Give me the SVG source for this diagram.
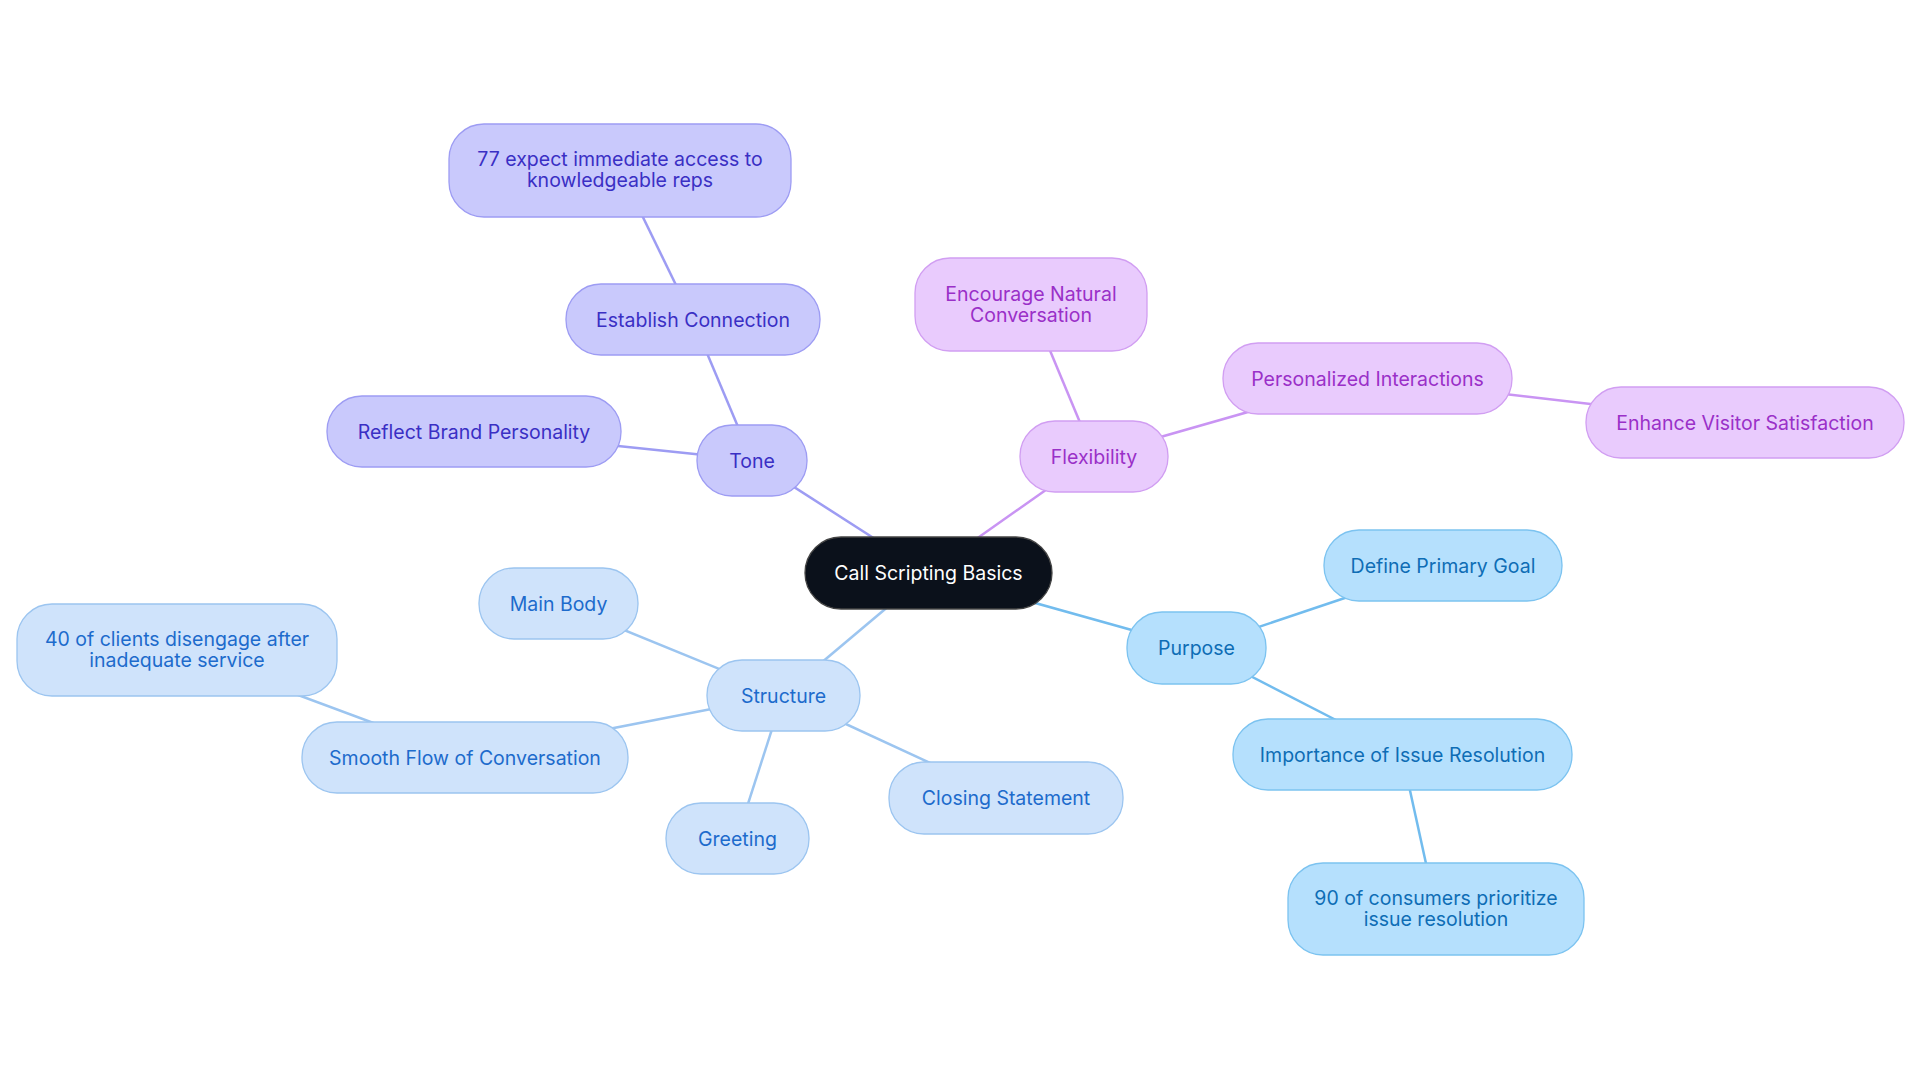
<svg xmlns="http://www.w3.org/2000/svg" width="1920" height="1083" viewBox="0 0 1920 1083">
<style>
text{font-family:Inter,"Noto Sans",sans-serif;font-size:19.5px;text-anchor:middle;dominant-baseline:central}
rect{stroke-width:1.3}
.t rect{fill:#c9c9fc;stroke:#9d9cf3}.t text{fill:#3a2fc4}
.f rect{fill:#e9cbfd;stroke:#d19ef2}.f text{fill:#9a30c8}
.p rect{fill:#b5e0fd;stroke:#7cc3f0}.p text{fill:#0e6db5}
.s rect{fill:#cfe3fb;stroke:#9cc5f0}.s text{fill:#1d6bcc}
#edges line{stroke-width:2.5}
.et{stroke:#9d9cf3}.ef{stroke:#c994f3}.ep{stroke:#72bcee}.es{stroke:#9cc5f0}
</style>
<rect width="1920" height="1083" fill="#fff"/>
<g id="edges">
<line class="et" x1="928" y1="573" x2="752" y2="460"/>
<line class="et" x1="752" y1="460" x2="693" y2="320"/>
<line class="et" x1="693" y1="320" x2="620" y2="170"/>
<line class="et" x1="752" y1="460" x2="474" y2="431"/>
<line class="ef" x1="928" y1="573" x2="1094" y2="456"/>
<line class="ef" x1="1094" y1="456" x2="1031" y2="305"/>
<line class="ef" x1="1094" y1="456" x2="1367" y2="378"/>
<line class="ef" x1="1367" y1="378" x2="1745" y2="422"/>
<line class="ep" x1="928" y1="573" x2="1196" y2="648"/>
<line class="ep" x1="1196" y1="648" x2="1443" y2="565"/>
<line class="ep" x1="1196" y1="648" x2="1402" y2="754"/>
<line class="ep" x1="1402" y1="754" x2="1436" y2="909"/>
<line class="es" x1="928" y1="573" x2="783" y2="695"/>
<line class="es" x1="783" y1="695" x2="558" y2="603"/>
<line class="es" x1="783" y1="695" x2="465" y2="757"/>
<line class="es" x1="465" y1="757" x2="177" y2="650"/>
<line class="es" x1="783" y1="695" x2="737" y2="838"/>
<line class="es" x1="783" y1="695" x2="1006" y2="798"/>
</g>
<g id="center"><rect x="805" y="537" width="247" height="72" rx="36" fill="#0b111b" stroke="#444"/><text x="928.5" y="573" fill="#fff">Call Scripting Basics</text></g>
<g id="tone" class="t"><rect x="697" y="425" width="110" height="71" rx="35"/><text x="752" y="460.5">Tone</text></g>
<g id="establish" class="t"><rect x="566" y="284" width="254" height="71" rx="35"/><text x="693" y="319.5">Establish Connection</text></g>
<g id="expect77" class="t"><rect x="449" y="124" width="342" height="93" rx="35"/><text x="620" y="159">77 expect immediate access to</text><text x="620" y="180">knowledgeable reps</text></g>
<g id="reflect" class="t"><rect x="327" y="396" width="294" height="71" rx="35"/><text x="474" y="431.5">Reflect Brand Personality</text></g>
<g id="flexibility" class="f"><rect x="1020" y="421" width="148" height="71" rx="35"/><text x="1094" y="456.5">Flexibility</text></g>
<g id="encourage" class="f"><rect x="915" y="258" width="232" height="93" rx="35"/><text x="1031" y="294">Encourage Natural</text><text x="1031" y="315">Conversation</text></g>
<g id="personalized" class="f"><rect x="1223" y="343" width="289" height="71" rx="35"/><text x="1367.5" y="378.5">Personalized Interactions</text></g>
<g id="enhance" class="f"><rect x="1586" y="387" width="318" height="71" rx="35"/><text x="1745" y="422.5">Enhance Visitor Satisfaction</text></g>
<g id="purpose" class="p"><rect x="1127" y="612" width="139" height="72" rx="35"/><text x="1196.5" y="648">Purpose</text></g>
<g id="define" class="p"><rect x="1324" y="530" width="238" height="71" rx="35"/><text x="1443" y="565.5">Define Primary Goal</text></g>
<g id="importance" class="p"><rect x="1233" y="719" width="339" height="71" rx="35"/><text x="1402.5" y="754.5">Importance of Issue Resolution</text></g>
<g id="consumers90" class="p"><rect x="1288" y="863" width="296" height="92" rx="35"/><text x="1436" y="898">90 of consumers prioritize</text><text x="1436" y="919">issue resolution</text></g>
<g id="structure" class="s"><rect x="707" y="660" width="153" height="71" rx="35"/><text x="783.5" y="695.5">Structure</text></g>
<g id="mainbody" class="s"><rect x="479" y="568" width="159" height="71" rx="35"/><text x="558.5" y="603.5">Main Body</text></g>
<g id="clients40" class="s"><rect x="17" y="604" width="320" height="92" rx="35"/><text x="177" y="639">40 of clients disengage after</text><text x="177" y="660">inadequate service</text></g>
<g id="smooth" class="s"><rect x="302" y="722" width="326" height="71" rx="35"/><text x="465" y="757.5">Smooth Flow of Conversation</text></g>
<g id="greeting" class="s"><rect x="666" y="803" width="143" height="71" rx="35"/><text x="737.5" y="838.5">Greeting</text></g>
<g id="closing" class="s"><rect x="889" y="762" width="234" height="72" rx="35"/><text x="1006" y="798">Closing Statement</text></g>
</svg>
